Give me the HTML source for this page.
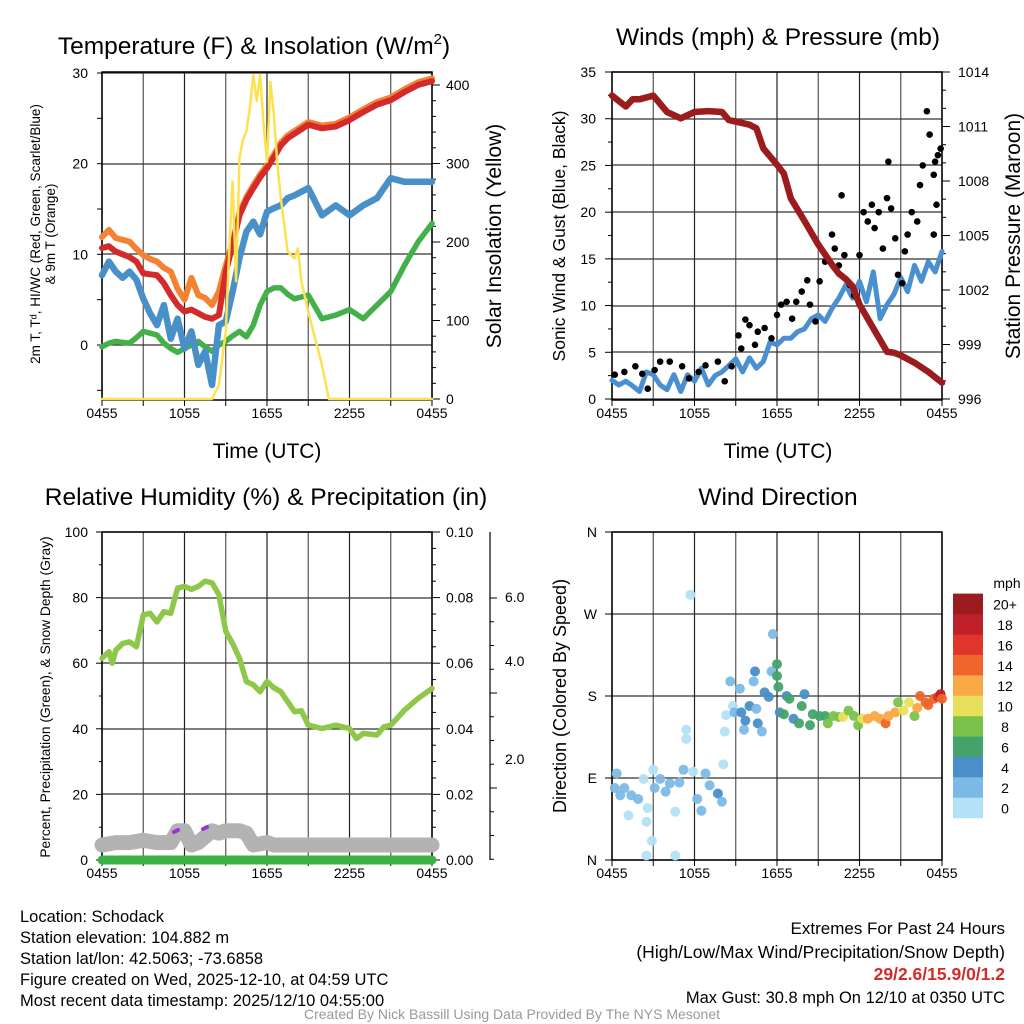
<!DOCTYPE html>
<html><head><meta charset="utf-8"><style>
html,body{margin:0;padding:0;background:#fff}
svg{display:block;font-family:"Liberation Sans",sans-serif}
</style></head><body>
<svg id="c" width="1024" height="1024" xmlns="http://www.w3.org/2000/svg"></svg>
<script>
// ---------- data ----------
const xTickLabels = ["0455","1055","1655","2255","0455"];
const tempHours = [0,0.5,1,1.5,2,2.5,3,3.5,4,4.5,5,5.5,6,6.5,7,7.5,8,8.5,9,9.5,10,10.5,11,11.5,12,12.5,13,13.5,14,15,16,17,18,19,20,21,22,23,24];
const tempRed =   [10.7,10.9,10.3,10,9.7,9.2,7.9,7.8,7.7,6.8,5.5,4.4,3.7,3.9,3.5,3.1,2.9,3.3,8.1,11,14.3,16,17.3,18.5,19.5,20.7,22,22.8,23.3,24.3,23.9,24.1,24.8,25.7,26.5,27,27.9,28.7,29.1];
const tempOrange= [11.9,12.7,11.8,11.6,11.4,10.6,9.9,9.5,9.2,8.5,8.1,6.2,5,7.4,5.5,5.2,4.4,5.9,8.8,11.3,14.6,16.3,17.6,18.8,19.8,21,22.3,23.1,23.6,24.6,24.2,24.4,25.1,26,26.8,27.3,28.2,29,29.4];
const tempBlue =  [7.7,9.2,8.1,7.4,8.1,7.2,5.1,3.5,2.2,4.4,0.7,2.9,-0.4,1.5,-2.2,-0.7,-4.4,2.2,2.6,5.9,9.6,12.5,13.6,12.2,14.7,15.1,15.4,16.2,16.5,17.3,14.3,15.4,14.3,15.4,16.2,18.4,18,18,18];
const tempGreen = [-0.2,0.2,0.4,0.3,0.2,0.8,1.5,1.3,1.1,0.2,-0.4,-0.8,-0.4,0,0.4,-0.2,-0.7,0,0.4,1,1.5,0.9,2.2,4.4,5.9,6.3,6.3,5.6,5.1,5.5,2.9,3.3,3.9,2.9,4.4,5.9,8.8,11.4,13.4];
const solarHours = [0,8,8.5,9,9.25,9.5,9.75,10,10.25,10.5,10.75,11,11.25,11.5,11.75,12,12.25,12.5,12.75,13,13.5,14,14.25,14.5,15,16,16.5,24];
const solarVals  = [0,0,18,86,188,277,150,307,330,341,370,413,380,413,350,302,404,362,300,256,188,179,192,150,111,43,0,0];

const windHours = [0,0.5,1,1.5,2,2.5,3,3.5,4,4.5,5,5.5,6,6.5,7,7.5,8,8.5,9,9.5,10,10.5,11,11.5,12,12.5,13,13.5,14,14.5,15,15.5,16,16.5,17,17.5,18,18.5,19,19.5,20,20.5,21,21.5,22,22.5,23,23.5,24];
const windSpeed = [2,1.5,1.9,1.4,0.8,2.9,2.6,1.5,1,2.6,0.8,2.6,1.9,3.3,1.5,2.5,2.9,3.6,4.3,2.9,4.4,3.3,4,6.1,5.8,6.5,6.5,7.2,7.5,8.6,9,8.3,9.7,10.8,12.2,10.8,12.6,10.4,13.6,8.6,10.1,11.2,13,11.5,14.3,12.6,14.7,13.6,15.8];
const gustHours = [0.2,0.9,1.7,2.2,2.6,3.1,3.5,4.2,5.1,5.6,6.3,6.8,7.7,8.2,8.7,9.2,9.4,9.7,10,10.4,10.6,11.1,11.6,12,12.3,12.7,13.1,13.4,13.8,14.2,14.4,14.8,15.1,15.5,16,16.2,16.5,16.7,16.9,17.3,17.6,18,18.3,18.6,18.9,19.1,19.4,19.7,20,20.1,20.3,20.6,20.8,21.1,21.3,21.5,21.8,22.2,22.4,22.6,22.9,23.1,23.4,23.5,23.7,23.9,23.6,23.4];
const gustVals  = [2.6,2.9,3.5,2.7,1.1,3.1,4,4,3.5,2.2,2.9,3.6,4,1.9,3.5,6.8,5.4,8.5,7.9,5.8,7.2,7.6,6.5,9,10.1,10.4,8.6,10.4,11.5,12.7,10.1,8.3,12.6,14.7,17.6,16.1,14.3,21.8,15.4,12.2,11.1,15.4,20,19,20.8,18.3,20,16.1,21.5,25.4,20.4,17.2,13.3,12.4,15.8,17.6,20,19,22.9,25,30.8,28.3,24,25.4,26.1,26.8,20.8,17.6];
const presHours = [0,1,1.5,2,3,4,5,6,7,8,8.5,9,10,10.5,11,12,12.5,13,14,15,16,16.5,17,17.5,18,19,20,20.5,21,22,23,24];
const presVals  = [1012.7,1012.1,1012.5,1012.5,1012.7,1011.8,1011.45,1011.8,1011.85,1011.8,1011.35,1011.27,1011.1,1010.9,1009.8,1008.9,1008.4,1007.05,1005.8,1004.5,1003.4,1002.9,1002.6,1002.2,1001.2,999.9,998.6,998.55,998.4,998,997.5,996.9];

const rhHours = [0,0.5,0.75,1,1.5,2,2.5,3,3.5,4,4.5,5,5.5,6,6.5,7,7.5,8,8.5,9,9.5,10,10.5,11,11.5,12,12.5,13,14,14.5,15,16,17,18,18.5,19,20,20.5,21,22,23,24];
const rhVals  = [61.5,63.5,60,64,66,66.5,65,74.7,75.2,72.6,75.7,75.2,82.9,83.4,82.5,83.4,85,84.5,80.9,69.7,66,61.5,54.4,53.4,51.3,54.4,52.5,51.3,45.2,45.5,41.1,40.1,41.1,40.1,37,38.6,38.1,40.6,41.1,45.7,49.3,52.3];
const snowHours = [0,1,2,3,4,5,5.5,6,6.5,7,8,8.5,9,10,10.5,11,12,12.5,13,24];
const snowVals  = [0.8,0.85,0.85,0.9,0.85,0.85,1.1,1.1,0.8,0.85,1.1,1.05,1.1,1.1,1.05,0.8,0.85,0.8,0.8,0.8];
const precipHours = [0,24];
const precipVals = [0,0];

const dirHours = [0.34,0.2,0.6,0.9,1.2,1.4,1.9,2.3,2.5,2.6,2.9,2.5,3,3.1,3.5,3.9,4.2,4.6,4.6,4.9,5.2,5.4,5.4,5.7,5.9,6.2,6.5,6.8,7.1,7.7,8,8.1,8.2,8.3,8.6,8.8,8.9,9.3,9.4,9.6,9.7,10,10.3,10.4,10.5,10.6,10.9,11.1,11.4,11.6,11.7,12,12,12.1,12.2,12.5,12.7,12.9,13.2,13.6,13.8,14,14.4,14.6,15.1,15.5,15.7,16.1,16.5,16.8,17.2,17.6,17.9,18.2,18.6,19.1,19.5,19.9,20.1,20.6,20.8,21.2,21.6,22,22.2,22.4,22.8,23,23.4,23.7,23.9,24];
const dirVals  = [95,79,71,79,49,71,67,89,42,57,21,5,99,79,89,75,84,53,5,85,99,133,143,291,97,67,54,95,82,73,64,105,141,159,196,169,162,188,162,143,153,169,196,207,166,150,141,184,179,207,248,202,215,190,162,160,180,177,155,150,169,182,148,160,158,158,150,158,157,157,164,158,148,155,155,158,155,150,158,162,173,164,173,158,167,180,173,170,177,179,182,177];
const dirSpeed = [2,2,2,2,0,2,2,0,0,0,0,0,0,2,2,2,2,0,0,2,2,0,0,0,0,2,2,2,2,4,2,0,0,0,2,0,2,2,4,2,4,4,2,4,2,4,2,4,4,2,2,6,6,6,4,6,4,6,4,6,6,4,6,6,6,6,8,8,8,10,8,8,8,10,12,12,12,14,12,12,8,10,10,8,12,14,14,14,14,16,18,14];
const cbLabels = ["0","2","4","6","8","10","12","14","16","18","20+"];
const cbColors = ["#b3e2f7","#7db9e5","#4a8fc7","#43a36a","#7ac24a","#e8e05a","#f8a844","#f0652a","#e0352b","#c0202a","#9b1b1e"];

// ---------- helpers ----------
const svg = document.getElementById('c');
const NS = "http://www.w3.org/2000/svg";
function el(tag, attrs, parent){ const e=document.createElementNS(NS,tag); for(const k in attrs) e.setAttribute(k,attrs[k]); (parent||svg).appendChild(e); return e; }
function txt(s, x, y, size, anchor, parent, extra){ const t=el('text',Object.assign({x:x,y:y,'font-size':size,'text-anchor':anchor||'middle',fill:'#000'},extra||{}),parent); t.textContent=s; return t; }
function xScale(x0){ return h => x0 + h*330/24; }
function lin(d0,d1,p0,p1){ return v => p0 + (v-d0)*(p1-p0)/(d1-d0); }
function line(hours, vals, xs, ys, color, w, parent, name){
  const d = hours.map((h,i)=>(i?'L':'M')+xs(h).toFixed(1)+','+ys(vals[i]).toFixed(1)).join('');
  const p = el('path',{d:d,fill:'none',stroke:color,'stroke-width':w,'stroke-linejoin':'round','stroke-linecap':'round'},parent);
  
  
  return p;
}
function frame(x0,y0,hgrid,parent){
  for(let i=0;i<=8;i++){ const x=x0+i*330/8; el('line',{x1:x,y1:y0,x2:x,y2:y0+328,stroke:i%2?'#555':'#222','stroke-width':1.2},parent); }
  hgrid.forEach(y=>el('line',{x1:x0,y1:y,x2:x0+330,y2:y,stroke:'#333','stroke-width':1.2},parent));
  el('rect',{x:x0,y:y0,width:330,height:328,fill:'none',stroke:'#000','stroke-width':1.5},parent);
  for(let i=0;i<=8;i++){ const x=x0+i*330/8; el('line',{x1:x,y1:y0+328,x2:x,y2:y0+334,stroke:'#000'},parent); }
}
function xlabels(x0,y,parent){ xTickLabels.forEach((s,i)=>{ const t=txt(s,x0+i*330/4,y,14,'middle',parent);   }); }
function group(name){ const g=el('g',{});   return g; }

// ---------- panel 1 ----------
const g1 = group('temperature-panel');
const x1 = xScale(102), yT = lin(0,30,345,73), yS = lin(0,400,399,85);
frame(102,72,[345,254,164,73],g1);
[-5,0,5,10,15,20,25,30].forEach(v=>el('line',{x1:97,y1:yT(v),x2:102,y2:yT(v),stroke:'#000'},g1));
[0,10,20,30].forEach(v=>txt(String(v),88,yT(v)+5,14,'end',g1));
for(let v=0;v<=400;v+=20) el('line',{x1:432,y1:yS(v),x2:v%100?436:440,y2:yS(v),stroke:'#000'},g1);
[0,100,200,300,400].forEach(v=>txt(String(v),446,yS(v)+5,14,'start',g1));
line(tempHours,tempGreen,x1,yT,'#43b049',5.5,g1,'dewpoint-line');
line(tempHours,tempBlue,x1,yT,'#4a90c8',6.5,g1,'windchill-line');
line(tempHours,tempOrange,x1,yT,'#f58233',6,g1,'temp-9m-line');
line(tempHours,tempRed,x1,yT,'#d42a2a',6,g1,'temp-2m-line');
line(solarHours,solarVals,x1,yS,'#fde24f',2.5,g1,'solar-line');
xlabels(102,418,g1);
txt('Temperature (F) & Insolation (W/m',254,54,24.5,'middle',g1).innerHTML='Temperature (F) &amp; Insolation (W/m<tspan font-size="15" dy="-10">2</tspan><tspan dy="10">)</tspan>';
txt('Time (UTC)',267,458,21,'middle',g1);
txt('2m T, T\u1D48, HI/WC (Red, Green, Scarlet/Blue)',0,0,13.5,'middle',g1,{transform:'translate(40,234) rotate(-90)'});
txt('& 9m T (Orange)',0,0,13.5,'middle',g1,{transform:'translate(55,234) rotate(-90)'});
txt('Solar Insolation (Yellow)',0,0,21,'middle',g1,{transform:'translate(501,236) rotate(-90)'});

// ---------- panel 2 ----------
const g2 = group('wind-pressure-panel');
const x2 = xScale(612), yW = lin(0,35,399,72), yP = lin(996,1014,399,72);
frame(612,72,[399,352,306,259,212,165,119,72],g2);
for(let v=0;v<=35;v+=2.5) el('line',{x1:v%5?608:605,y1:yW(v),x2:612,y2:yW(v),stroke:'#000'},g2);
for(let v=0;v<=35;v+=5) txt(String(v),596,yW(v)+5,14,'end',g2);
for(let v=996;v<=1014;v++) el('line',{x1:942,y1:yP(v),x2:(v%3)?946:950,y2:yP(v),stroke:'#000'},g2);
for(let v=996;v<=1014;v+=3) txt(String(v),958,yP(v)+5,14,'start',g2);
line(windHours,windSpeed,x2,yW,'#4a90d0',5,g2,'sonic-wind-line');
gustHours.forEach((h,i)=>{ const c=el('circle',{cx:x2(h),cy:yW(gustVals[i]),r:3.3,fill:'#000'},g2);
  
   });
line(presHours,presVals,x2,yP,'#9b1b1e',6.5,g2,'pressure-line');
xlabels(612,418,g2);
txt('Winds (mph) & Pressure (mb)',778,45,24.5,'middle',g2);
txt('Time (UTC)',778,458,21,'middle',g2);
txt('Sonic Wind & Gust (Blue, Black)',0,0,17.5,'middle',g2,{transform:'translate(565,236) rotate(-90)'});
txt('Station Pressure (Maroon)',0,0,21,'middle',g2,{transform:'translate(1020,236) rotate(-90)'});

// ---------- panel 3 ----------
const g3 = group('humidity-panel');
const x3 = xScale(102), yR = lin(0,100,860,532), ySn = lin(0,6,883,598);
frame(102,532,[860,794,729,663,598,532],g3);
for(let v=0;v<=100;v+=10) el('line',{x1:v%20?99:96,y1:yR(v),x2:102,y2:yR(v),stroke:'#000'},g3);
for(let v=0;v<=100;v+=20) txt(String(v),88,yR(v)+5,14,'end',g3);
for(let v=0;v<=100;v+=5) el('line',{x1:432,y1:yR(v),x2:v%20?436:440,y2:yR(v),stroke:'#000'},g3);
["0.00","0.02","0.04","0.06","0.08","0.10"].forEach((s,i)=>txt(s,446,yR(i*20)+5,14,'start',g3));
el('line',{x1:490,y1:532,x2:490,y2:860,stroke:'#000','stroke-width':1.2},g3);
for(let v=0;v<=6;v+=0.5) { const y=ySn(v); if(y>=532&&y<=860) el('line',{x1:490,y1:y,x2:v%2?494:497,y2:y,stroke:'#000'},g3); }
[["2.0",764],["4.0",666],["6.0",602]].forEach(a=>txt(a[0],505,a[1],14,'start',g3));
line(snowHours,snowVals,x3,ySn,'#b3b3b3',15,g3,'snow-depth-line');
line(precipHours,precipVals,x3,yR,'#3cb043',9,g3,'precip-line');
el('line',{x1:174,y1:832,x2:178,y2:830,stroke:'#9b30e0','stroke-width':4,'stroke-linecap':'round'},g3);
el('line',{x1:203,y1:829,x2:207,y2:827,stroke:'#9b30e0','stroke-width':4,'stroke-linecap':'round'},g3);
line(rhHours,rhVals,x3,yR,'#8dc84a',5.5,g3,'rh-line');
xlabels(102,878,g3);
txt('Relative Humidity (%) & Precipitation (in)',266,505,24.5,'middle',g3);
txt('Percent, Precipitation (Green), & Snow Depth (Gray)',0,0,13.8,'middle',g3,{transform:'translate(50,697) rotate(-90)'});

// ---------- panel 4 ----------
const g4 = group('wind-direction-panel');
const x4 = xScale(612), yD = lin(0,360,860,532);
frame(612,532,[860,778,696,614,532],g4);
["N","E","S","W","N"].forEach((s,i)=>{ el('line',{x1:605,y1:yD(i*90),x2:612,y2:yD(i*90),stroke:'#000'},g4); txt(s,597,yD(i*90)+5,14,'end',g4); });
dirHours.forEach((h,i)=>{ const idx=Math.min(10,Math.floor(dirSpeed[i]/2));
  const c=el('circle',{cx:x4(h),cy:yD(dirVals[i]),r:5,fill:cbColors[idx],'fill-opacity':0.95},g4);
  
   });
xlabels(612,878,g4);
txt('Wind Direction',778,505,24.5,'middle',g4);
txt('Direction (Colored By Speed)',0,0,18,'middle',g4,{transform:'translate(566,696) rotate(-90)'});
const cb = group('speed-colorbar');
cbColors.forEach((c,i)=>{ const y=818-(i+1)*20.4; el('rect',{x:953,y:y,width:30,height:20.6,fill:c},cb); txt(cbLabels[i],1005,y+16,14,'middle',cb); });
txt('mph',1007,588,14,'middle',cb);

// ---------- footer ----------
const f = group('station-info');
["Location: Schodack","Station elevation: 104.882 m","Station lat/lon: 42.5063; -73.6858","Figure created on Wed, 2025-12-10, at 04:59 UTC","Most recent data timestamp: 2025/12/10 04:55:00"].forEach((s,i)=>txt(s,20,922+i*21,16.5,'start',f));
const ex = group('extremes-info');
txt('Extremes For Past 24 Hours',1005,934,17,'end',ex);
txt('(High/Low/Max Wind/Precipitation/Snow Depth)',1005,958,17.5,'end',ex);
txt('29/2.6/15.9/0/1.2',1005,980,17.5,'end',ex,{fill:'#d42a2a','font-weight':'bold'});
txt('Max Gust: 30.8 mph On 12/10 at 0350 UTC',1005,1003,16.5,'end',ex);
txt('Created By Nick Bassill Using Data Provided By The NYS Mesonet',512,1019,14,'middle',svg,{fill:'#999'});
</script>
</body></html>
